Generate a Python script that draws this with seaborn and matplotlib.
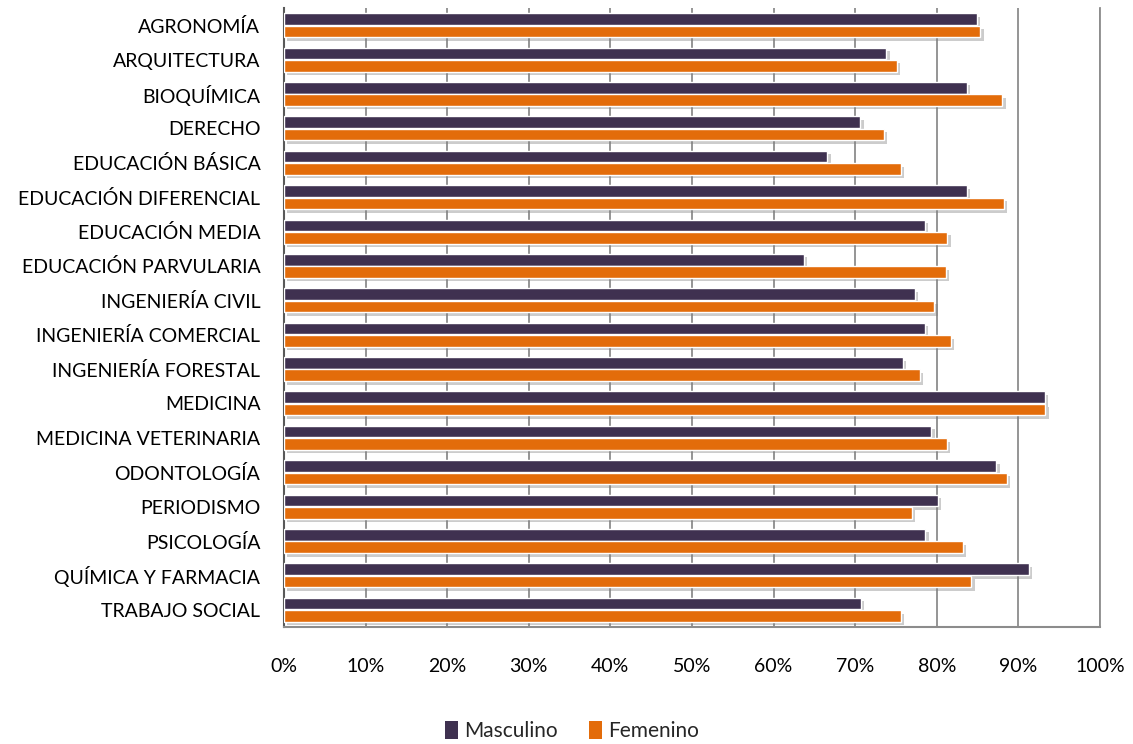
import matplotlib
matplotlib.use("Agg")
import matplotlib.pyplot as plt
import matplotlib.patheffects as pe
from matplotlib.patches import Patch
from matplotlib.ticker import PercentFormatter, MultipleLocator
import seaborn as sns
import pandas as pd

categorias = ["AGRONOMÍA", "ARQUITECTURA", "BIOQUÍMICA", "DERECHO", "EDUCACIÓN BÁSICA",
              "EDUCACIÓN DIFERENCIAL", "EDUCACIÓN MEDIA", "EDUCACIÓN PARVULARIA",
              "INGENIERÍA CIVIL", "INGENIERÍA COMERCIAL", "INGENIERÍA FORESTAL", "MEDICINA",
              "MEDICINA VETERINARIA", "ODONTOLOGÍA", "PERIODISMO", "PSICOLOGÍA",
              "QUÍMICA Y FARMACIA", "TRABAJO SOCIAL"]
masculino = [84.9, 73.8, 83.7, 70.6, 66.6, 83.7, 78.5, 63.7, 77.3, 78.5, 75.8, 93.2,
             79.3, 87.3, 80.1, 78.6, 91.3, 70.7]
femenino = [85.3, 75.1, 88.0, 73.5, 75.6, 88.2, 81.3, 81.1, 79.7, 81.7, 77.9, 93.3,
            81.2, 88.6, 76.9, 83.2, 84.2, 75.6]
series = ["Masculino", "Femenino"]
colores = ["#3F3150", "#E36C0A"]

df = pd.DataFrame({
    "carrera": categorias * 2,
    "sexo": [series[0]] * len(categorias) + [series[1]] * len(categorias),
    "valor": masculino + femenino,
})

sns.set_theme(style="white")
plt.rcParams["font.family"] = ["Lato", "DejaVu Sans"]

fig = plt.figure(figsize=(11.33, 7.44), dpi=100)
ax = fig.add_axes([284 / 1133, 1 - 627 / 744, (1100 - 284) / 1133, (627 - 8) / 744])

sns.barplot(data=df, y="carrera", x="valor", hue="sexo", order=categorias,
            hue_order=series, palette=colores, orient="h", width=0.72, gap=0.06,
            saturation=1, ax=ax, zorder=3, legend=False)

for p in ax.patches:
    p.set_path_effects([pe.SimplePatchShadow(offset=(2.5, -2.5), shadow_rgbFace="#808080", alpha=0.4),
                        pe.Normal()])

ax.set_xlim(0, 100)
ax.set_ylim(len(categorias) - 0.5, -0.5)
ax.xaxis.set_major_locator(MultipleLocator(10))
ax.xaxis.set_major_formatter(PercentFormatter(decimals=0))
ax.grid(axis="x", color="#8C8C8C", linewidth=1.3, zorder=0)
ax.set_axisbelow(True)
ax.set_xlabel("")
ax.set_ylabel("")
ax.tick_params(axis="x", labelsize=14, pad=22, length=0, colors="#000000")
ax.tick_params(axis="y", labelsize=14, pad=17, length=0, colors="#000000")

ax.spines["top"].set_visible(False)
ax.spines["right"].set_visible(True)
ax.spines["right"].set_color("#8C8C8C")
ax.spines["right"].set_linewidth(1.3)
ax.spines["left"].set_color("#595959")
ax.spines["left"].set_linewidth(1.5)
ax.spines["bottom"].set_color("#8C8C8C")
ax.spines["bottom"].set_linewidth(1.5)

handles = [Patch(facecolor=c, edgecolor="none") for c in colores]
fig.legend(handles, series, loc="center", bbox_to_anchor=(572 / 1133, 1 - 731 / 744),
           ncol=2, frameon=False, fontsize=15, handlelength=0.6, handleheight=1.0,
           handletextpad=0.3, columnspacing=1.5)

fig.savefig("out.png", dpi=100)
